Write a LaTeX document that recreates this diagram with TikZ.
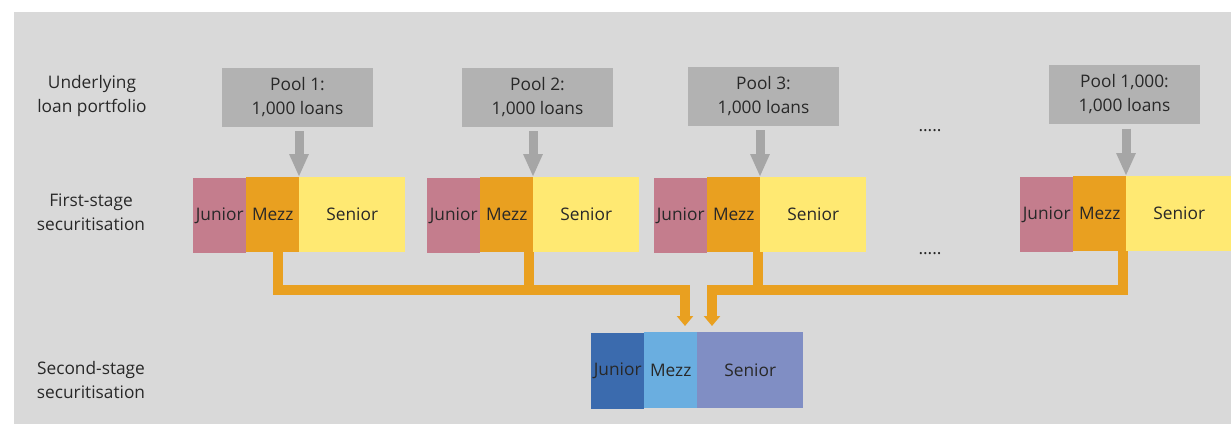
\documentclass[tikz,border=0pt]{standalone}
\usepackage{fontspec}
\setmainfont{Open Sans}
\usetikzlibrary{arrows.meta,calc}
\definecolor{bg}{HTML}{D9D9D9}
\definecolor{poolgray}{HTML}{B2B2B2}
\definecolor{arrowgray}{HTML}{A6A6A6}
\definecolor{junpink}{HTML}{C47D8D}
\definecolor{mezzorange}{HTML}{E9A020}
\definecolor{senyellow}{HTML}{FFE972}
\definecolor{jblue}{HTML}{3B6BAE}
\definecolor{mblue}{HTML}{6AAEE0}
\definecolor{sblue}{HTML}{808EC4}
\definecolor{txt}{HTML}{282828}
\begin{document}
\begin{tikzpicture}[x=1pt,y=-1pt,
  txtfont/.style={font=\fontsize{17.3}{24}\selectfont, text=txt},
  lbl/.style={txtfont, align=center, inner sep=0},
  pool/.style={txtfont, fill=poolgray, align=center, minimum width=151pt, minimum height=59pt, inner sep=0},
  tranche/.style={txtfont, anchor=north west, inner sep=0, minimum height=75pt},
  jun/.style={tranche, fill=junpink, minimum width=53pt},
  mez/.style={tranche, fill=mezzorange, minimum width=53pt},
  sen/.style={tranche, fill=senyellow, minimum width=106pt},
  jun2/.style={tranche, fill=jblue, minimum width=53pt, minimum height=76pt},
  mez2/.style={tranche, fill=mblue, minimum width=53pt, minimum height=76pt},
  sen2/.style={tranche, fill=sblue, minimum width=106pt, minimum height=76pt},
  garrow/.style={draw=arrowgray, line width=9pt, -{Triangle[width=18pt,length=23pt]}},
  oline/.style={draw=mezzorange, line width=10pt},
  oarrow/.style={oline, -{Triangle[width=16pt,length=10pt]}, shorten >=6pt},
  dotsnode/.style={txtfont, anchor=base, inner sep=0}
]
\useasboundingbox (0,0) rectangle (1231,424);
\fill[bg] (14,12) rectangle (1231,424);

% left labels
\node[lbl] (l1) at (92,96) {Underlying\\loan portfolio};
\node[lbl] (l2) at (91,212) {First-stage\\securitisation};
\node[lbl] (l3) at (91,380) {Second-stage\\securitisation};

% pools
\node[pool] (p1) at (297.5,97.5) {Pool 1:\\1,000 loans};
\node[pool] (p2) at (537.5,97.5) {Pool 2:\\1,000 loans};
\node[pool] (p3) at (763.5,96.5) {Pool 3:\\1,000 loans};
\node[pool] (p4) at (1124.5,94) {Pool 1,000:\\1,000 loans};

% first-stage tranches
\node[jun] (j1) at (193,178) {Junior};
\node[mez] (m1) at (246,177) {Mezz};
\node[sen] (s1) at (299,177) {Senior};

\node[jun] (j2) at (427,178) {Junior};
\node[mez] (m2) at (480,177) {Mezz};
\node[sen] (s2) at (533,177) {Senior};

\node[jun] (j3) at (654,178) {Junior};
\node[mez] (m3) at (707,177) {Mezz};
\node[sen] (s3) at (760,177) {Senior};

\node[jun] (j4) at (1020,177) {Junior};
\node[mez] (m4) at (1073,176) {Mezz};
\node[sen] (s4) at (1126,176) {Senior};

% dots
\node[dotsnode] (d1) at (930,131) {.....};
\node[dotsnode] (d2) at (930,254) {.....};

% second stage
\node[jun2] (sj) at (591,333) {Junior};
\node[mez2] (sm) at (644,332) {Mezz};
\node[sen2] (ss) at (697,332) {Senior};

% gray arrows
\draw[garrow] ([yshift=-4pt]p1.south -| s1.north west) -- (s1.north west);
\draw[garrow] ([yshift=-4pt]p2.south -| s2.north west) -- (s2.north west);
\draw[garrow] ([yshift=-4pt]p3.south -| s3.north west) -- (s3.north west);
\draw[garrow] ([yshift=-5pt]p4.south -| s4.north west) -- (s4.north west);

% orange connectors
\coordinate (ML) at (685,290);
\coordinate (MR) at (712,290);
\draw[oarrow] ([xshift=-21pt]m1.south east) |- (ML) -- (ML |- sm.north);
\draw[oline] ([xshift=-4pt]m2.south east) -- ([xshift=-4pt]m2.south east |- ML);
\draw[oarrow] ([xshift=-3pt]m4.south east) |- (MR) -- (MR |- ss.north);
\draw[oline] ([xshift=-2pt]m3.south east) -- ([xshift=-2pt]m3.south east |- MR);
\end{tikzpicture}
\end{document}
